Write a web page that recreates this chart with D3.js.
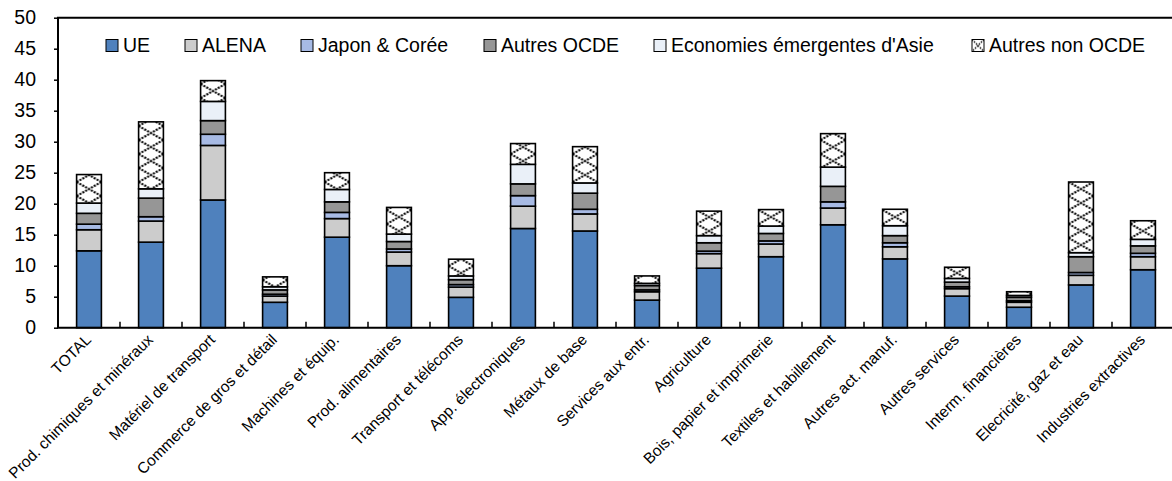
<!DOCTYPE html>
<html>
<head>
<meta charset="utf-8">
<script src="https://cdn.jsdelivr.net/npm/d3@7"></script>
<style>
  html, body { margin: 0; padding: 0; background: #fff; }
  svg { display: block; }
  text { font-family: "Liberation Sans", Arial, sans-serif; fill: #000; }
</style>
</head>
<body>
<svg id="chart" width="1172" height="481"></svg>
<script>
// Sectors
const categories = [
  "TOTAL", "Prod. chimiques et minéraux", "Matériel de transport",
  "Commerce de gros et détail", "Machines et équip.", "Prod. alimentaires",
  "Transport et télécoms", "App. électroniques", "Métaux de base",
  "Services aux entr.", "Agriculture", "Bois, papier et imprimerie",
  "Textiles et habillement", "Autres act. manuf.", "Autres services",
  "Interm. financières", "Elecricité, gaz et eau", "Industries extractives"
];

// Contribution of each region, by sector
const ue         = [12.4, 13.8, 20.6, 4.1, 14.6, 10.0, 4.9, 16.0, 15.6, 4.45, 9.6, 11.45, 16.6, 11.1, 5.1, 3.3, 6.9, 9.35];
const alena      = [3.4, 3.4, 8.8, 1.0, 3.0, 2.2, 1.65, 3.6, 2.75, 1.35, 2.35, 2.05, 2.7, 1.95, 1.2, 0.8, 1.55, 2.1];
const japonCoree = [0.9, 0.7, 1.8, 0.3, 1.0, 0.5, 0.4, 1.7, 0.75, 0.3, 0.4, 0.5, 1.0, 0.65, 0.3, 0.25, 0.45, 0.55];
const autresOcde = [1.75, 3.0, 2.2, 0.7, 1.7, 1.2, 0.8, 1.9, 2.6, 0.7, 1.35, 1.2, 2.5, 1.15, 0.75, 0.55, 2.55, 1.2];
const emergAsie  = [1.65, 1.5, 3.1, 0.5, 2.0, 1.2, 0.6, 3.15, 1.65, 0.35, 1.15, 1.2, 3.1, 1.6, 0.6, 0.3, 0.65, 1.05];
const nonOcde    = [4.6, 10.8, 3.35, 1.6, 2.7, 4.3, 2.7, 3.35, 5.85, 1.2, 3.95, 2.65, 5.4, 2.65, 1.8, 0.6, 11.4, 3.0];

const seriesNames = ["UE", "ALENA", "Japon & Corée", "Autres OCDE", "Economies émergentes d'Asie", "Autres non OCDE"];
const seriesValues = [ue, alena, japonCoree, autresOcde, emergAsie, nonOcde];
const yTicks = [0, 5, 10, 15, 20, 25, 30, 35, 40, 45, 50];

const fills = ["#4f81bd", "#cccccc", "#a7bae4", "#969696", "#eaf0f8", "url(#hatch)"];

const svg = d3.select("#chart");
const margin = { left: 58, top: 17.7, bottom: 327.7 };
const plotRight = 58 + 18 * 62;

const rows = categories.map((c, i) => {
  const r = { cat: c };
  seriesNames.forEach((s, j) => r[s] = seriesValues[j][i]);
  return r;
});
const stacked = d3.stack().keys(seriesNames)(rows);

const x = d3.scaleBand().domain(categories).range([margin.left, plotRight])
  .paddingInner(0.6).paddingOuter(0.3);
const y = d3.scaleLinear().domain([0, 50]).range([margin.bottom, margin.top]);
const bw = x.bandwidth();

// Cross-hatch pattern: one X per bar width, tiled from each bar's left edge
const defs = svg.append("defs");
const tileW = bw, tileH = 14;
const pat = defs.append("pattern").attr("id", "hatch")
  .attr("patternUnits", "userSpaceOnUse")
  .attr("width", tileW).attr("height", tileH);
pat.append("rect").attr("width", tileW).attr("height", tileH).attr("fill", "#fff");
pat.append("path")
  .attr("d", `M0,0L${tileW},${tileH}M${tileW},0L0,${tileH}`)
  .attr("stroke", "#000").attr("stroke-width", 2.1)
  .attr("stroke-dasharray", "2,1.3");

// Legend swatch hatch (smaller tile)
const patS = defs.append("pattern").attr("id", "hatchSmall")
  .attr("patternUnits", "userSpaceOnUse")
  .attr("width", 12).attr("height", 12);
patS.append("rect").attr("width", 12).attr("height", 12).attr("fill", "#fff");
patS.append("path")
  .attr("d", "M0,0L12,12M12,0L0,12")
  .attr("stroke", "#000").attr("stroke-width", 1.4)
  .attr("stroke-dasharray", "1.6,1.2");

// Bars
const barGroups = svg.append("g").selectAll("g")
  .data(categories).join("g")
  .attr("transform", d => `translate(${x(d)},0)`);

stacked.forEach((layer, j) => {
  barGroups.append("rect")
    .attr("x", 0)
    .attr("width", bw)
    .attr("y", (d, i) => y(layer[i][1]))
    .attr("height", (d, i) => y(layer[i][0]) - y(layer[i][1]))
    .attr("fill", fills[j])
    .attr("stroke", "#000")
    .attr("stroke-width", 1.6);
});

// Frame
svg.append("path")
  .attr("d", `M${plotRight},${margin.top}H${margin.left}V${margin.bottom}H${plotRight}`)
  .attr("fill", "none").attr("stroke", "#000").attr("stroke-width", 2);

// Y axis
const yAxis = svg.append("g")
  .attr("transform", `translate(${margin.left},0)`)
  .call(d3.axisLeft(y).tickValues(yTicks).tickSize(4).tickPadding(18));
yAxis.select(".domain").remove();
yAxis.selectAll(".tick line").attr("stroke", "#000").attr("stroke-width", 1.5);
yAxis.selectAll(".tick text").style("font-size", "19.5px").attr("fill", "#000");

// Inward ticks between sectors
const boundaries = d3.range(1, categories.length).map(i => x(categories[i]) - x.step() * 0.3);
svg.append("g").selectAll("line").data(boundaries).join("line")
  .attr("x1", d => d).attr("x2", d => d)
  .attr("y1", margin.bottom).attr("y2", margin.bottom - 6)
  .attr("stroke", "#000").attr("stroke-width", 1.5);

// Rotated sector labels
svg.append("g").selectAll("text").data(categories).join("text")
  .attr("transform", d => `translate(${x(d) + bw / 2 + 3},${margin.bottom + 13}) rotate(-45)`)
  .attr("text-anchor", "end")
  .style("font-size", "15.5px")
  .text(d => d);

// Legend
const legendFills = fills.slice(0, 5).concat(["url(#hatchSmall)"]);
const legendX = [106, 185, 301, 484, 654, 972];
const legend = svg.append("g").selectAll("g").data(seriesNames).join("g")
  .attr("transform", (d, i) => `translate(${legendX[i]},39.5)`);
legend.append("rect")
  .attr("width", 12).attr("height", 12)
  .attr("fill", (d, i) => legendFills[i])
  .attr("stroke", "#000").attr("stroke-width", 1);
legend.append("text")
  .attr("x", 17).attr("y", 12.8)
  .style("font-size", "19.5px")
  .text(d => d);
</script>
</body>
</html>
